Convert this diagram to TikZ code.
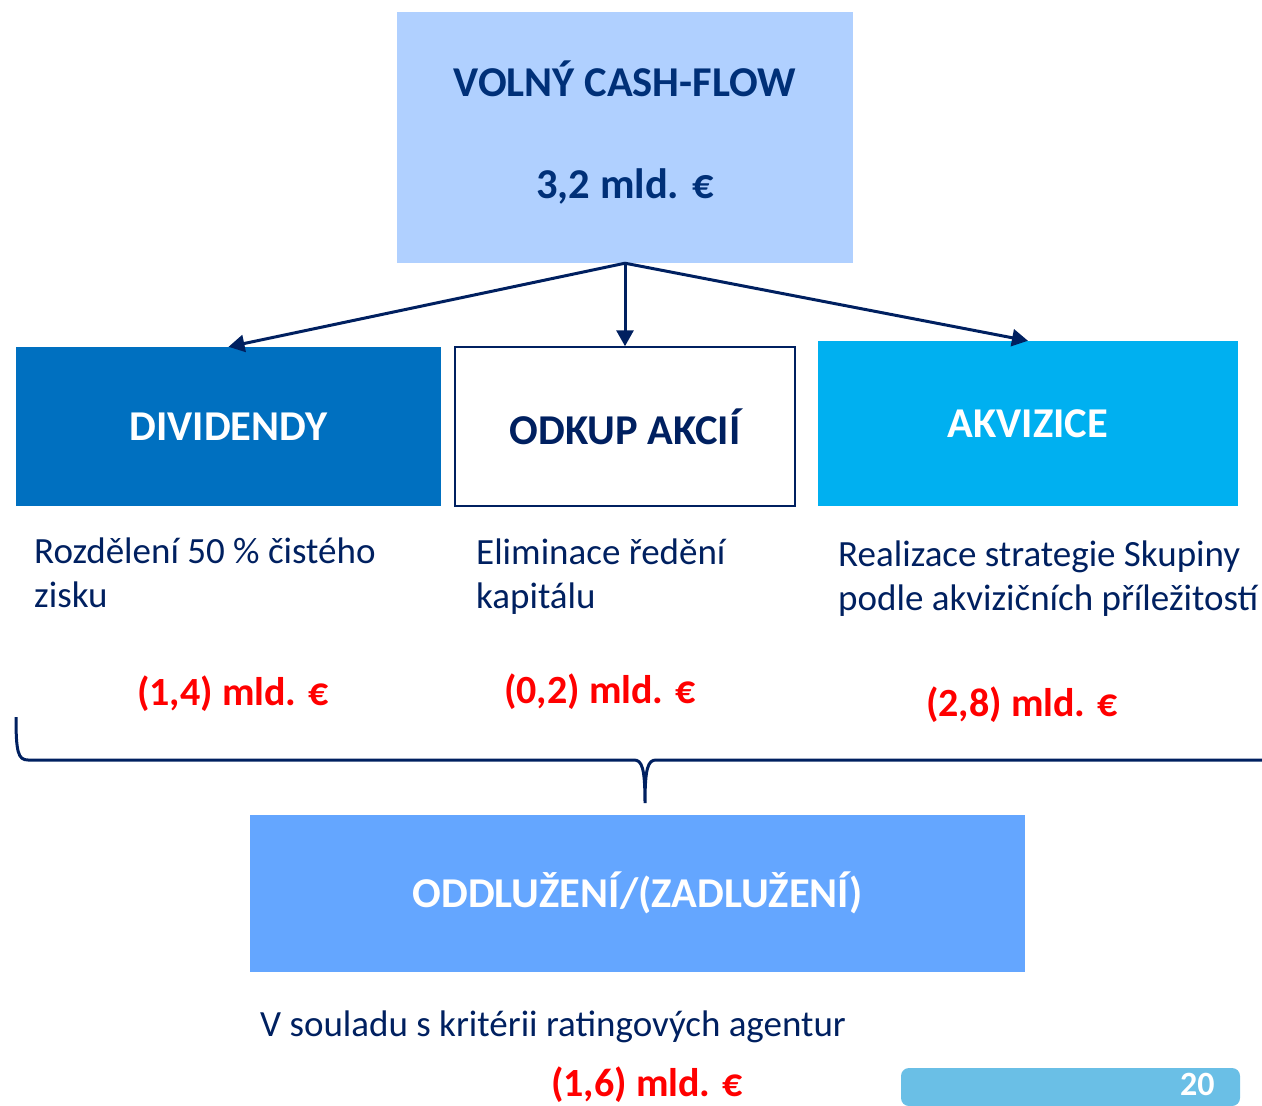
\documentclass[tikz,border=0pt]{standalone}
\usepackage{fontspec}
\setmainfont{Carlito}
\usetikzlibrary{arrows.meta}
\definecolor{navy}{RGB}{0,32,96}
\definecolor{titlenavy}{RGB}{0,48,120}
\definecolor{paleblue}{RGB}{176,208,255}
\definecolor{divblue}{RGB}{0,112,192}
\definecolor{akvblue}{RGB}{0,176,240}
\definecolor{debtblue}{RGB}{100,166,255}
\definecolor{pageblue}{RGB}{106,191,230}
\definecolor{valred}{RGB}{255,0,0}
\begin{document}
\begin{tikzpicture}[x=1pt,y=-1pt,
    box/.style={rectangle,inner sep=0pt,font=\fontsize{42.5}{44}\selectfont\bfseries},
    desc/.style={anchor=base west,align=left,inner sep=0pt,text=navy,font=\fontsize{37}{44}\selectfont},
    val/.style={anchor=base,text=valred,font=\fontsize{40}{44}\selectfont\bfseries},
    arr/.style={draw=navy,line width=3pt,-{Triangle[length=16pt,width=17pt]}}]
  \useasboundingbox (0,0) rectangle (1262,1106);
  % top box
  \node[box,fill=paleblue,text=titlenavy,minimum width=456pt,minimum height=251pt,align=center,text depth=16pt]
    (cf) at (625,137.5) {VOLNÝ CASH-FLOW\\[58pt]3,2 mld. €};
  % three uses
  \node[box,fill=divblue,text=white,minimum width=425pt,minimum height=159pt] (div) at (228.5,426.5) {DIVIDENDY};
  \node[box,fill=white,draw=navy,line width=1.5pt,text=navy,minimum width=340pt,minimum height=159pt] (odk) at (625,426.5) {ODKUP AKCIÍ};
  \node[box,fill=akvblue,text=white,minimum width=420pt,minimum height=165pt] (akv) at (1028,423.5) {AKVIZICE};
  \draw[arr] (cf.south) -- (div.north);
  \draw[arr] (cf.south) -- (odk.north);
  \draw[arr] (cf.south) -- (akv.north);
  % descriptions (anchored at the last line)
  \node[desc] (ddiv) at (34,607) {Rozdělení 50 \% čistého\\zisku};
  \node[desc] (dodk) at (476,608) {Eliminace ředění\\kapitálu};
  \node[desc] (dakv) at (838,610) {Realizace strategie Skupiny\\podle akvizičních příležitostí};
  \node[val] (vdiv) at (233,705) {(1,4) mld. €};
  \node[val] (vodk) at (600,703) {(0,2) mld. €};
  \node[val] (vakv) at (1022,716) {(2,8) mld. €};
  % brace
  \draw[navy,line width=3pt] (16,717) .. controls (16,752) and (18,760) .. (28,760) -- (634,760)
    .. controls (642,760) and (645,768) .. (645,803)
    .. controls (645,768) and (648,760) .. (656,760) -- (1262,760);
  % result
  \node[box,fill=debtblue,text=white,minimum width=775pt,minimum height=157pt] (dlug) at (637.5,893) {ODDLUŽENÍ/(ZADLUŽENÍ)};
  \node[desc] (ddlug) at (260,1036) {V souladu s kritérii ratingových agentur};
  \node[val] (vdlug) at (647,1096) {(1,6) mld. €};
  % page number
  \draw[fill=pageblue,draw=none,rounded corners=8pt] (901,1068) rectangle (1240,1106);
  \node[anchor=east,text=white,font=\fontsize{34}{36}\selectfont\bfseries] (pg) at (1218,1084) {20};
\end{tikzpicture}
\end{document}
